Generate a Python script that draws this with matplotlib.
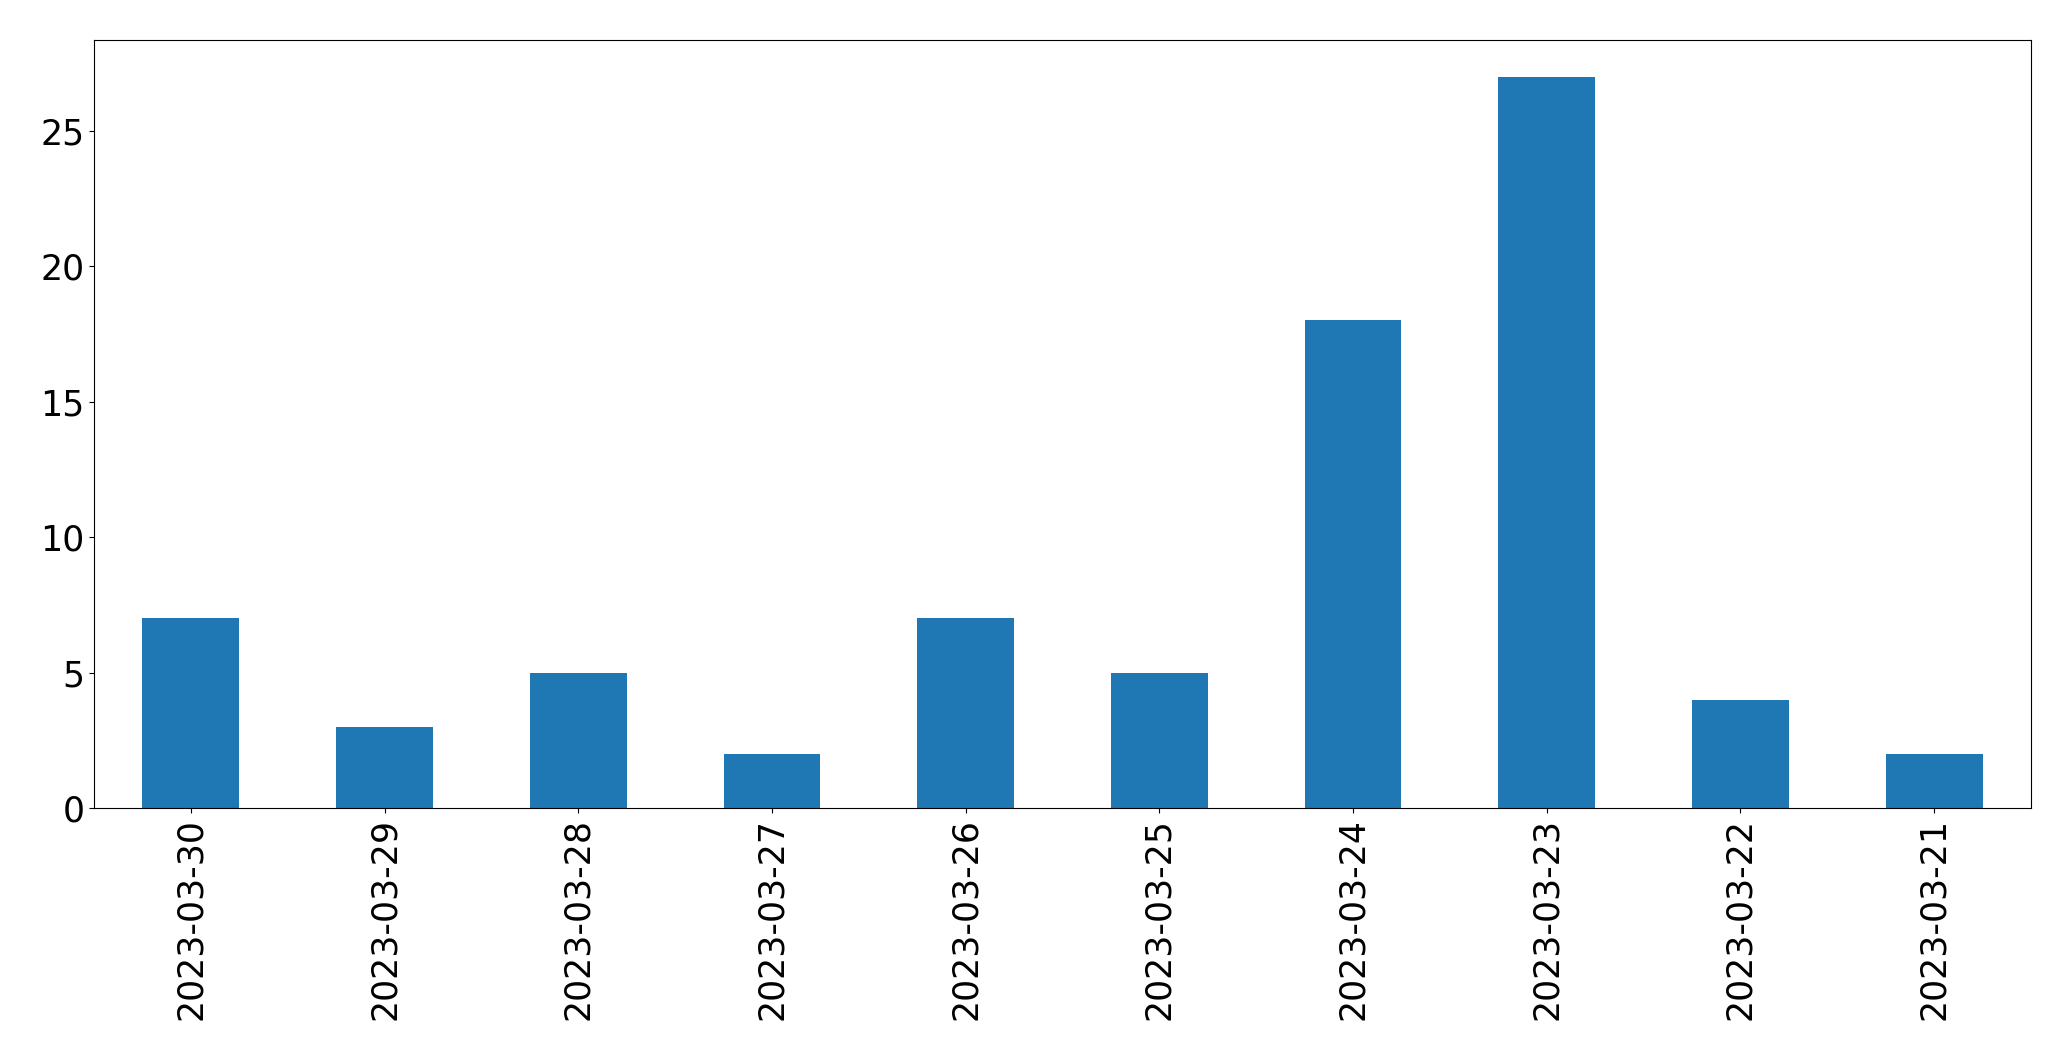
import matplotlib
matplotlib.use("Agg")
import matplotlib.pyplot as plt

dates = ["2023-03-30", "2023-03-29", "2023-03-28", "2023-03-27", "2023-03-26",
         "2023-03-25", "2023-03-24", "2023-03-23", "2023-03-22", "2023-03-21"]
counts = [7, 3, 5, 2, 7, 5, 18, 27, 4, 2]

fig = plt.figure(figsize=(20.71, 10.61), dpi=100)
ax = fig.add_axes([94 / 2071, 1 - 808 / 1061, (2031 - 94) / 2071, (808 - 40) / 1061])
x = list(range(len(dates)))
ax.bar(x, counts, width=0.5, color="#1f77b4")
ax.set_xticks(x)
ax.set_xticklabels(dates, rotation=90)
ax.set_xlim(-0.5, len(dates) - 0.5)
ax.set_ylim(0, max(counts) * 1.05)
ax.set_yticks([0, 5, 10, 15, 20, 25])
ax.tick_params(labelsize=25)
fig.savefig("out.png", dpi=100)
